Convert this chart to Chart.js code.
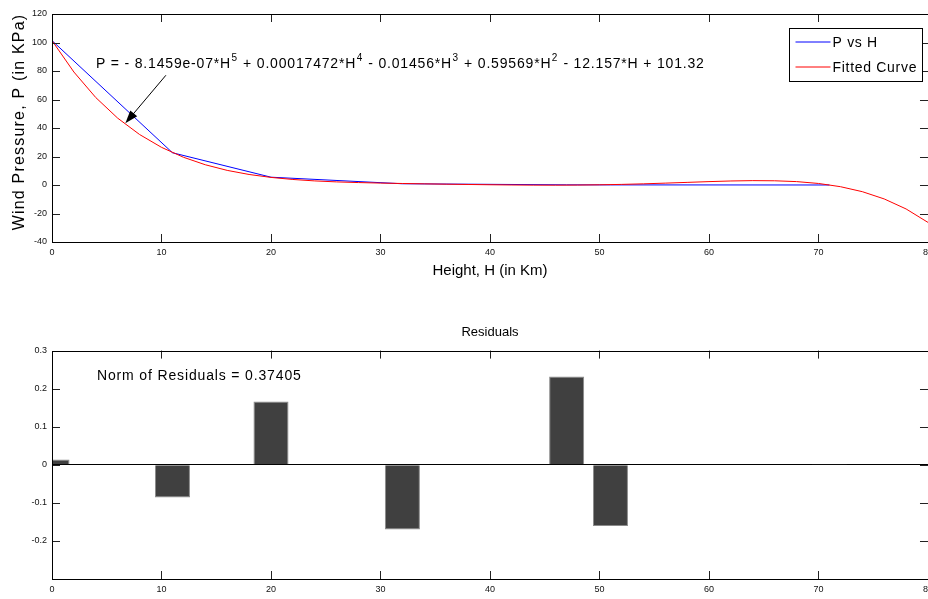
<!DOCTYPE html>
<html>
<head>
<meta charset="utf-8">
<script src="https://cdn.jsdelivr.net/npm/chart.js@4.4.1/dist/chart.umd.min.js"></script>
<style>
body { margin: 0; background: #fff; overflow: hidden; }
canvas { position: absolute; left: 0; }
#topChart { top: 0; }
#resChart { top: 290px; }
</style>
</head>
<body>
<canvas id="topChart" width="938" height="290"></canvas>
<canvas id="resChart" width="938" height="309"></canvas>
<script>
// measured points: height (km) and pressure (kPa)
const heights = [0, 11, 20, 32, 47, 51, 71];
const pressures = [101.325, 22.632, 5.4748, 0.868, 0.1109, 0.0669, 0.00396];

const fitH = [0, 2, 4, 6, 8, 10, 12, 14, 16, 18, 20, 22, 24, 26, 28, 30, 32, 34, 36, 38, 40,
  42, 44, 46, 48, 50, 52, 54, 56, 58, 60, 62, 64, 66, 68, 70, 72, 74, 76, 78, 80];
const fitP = [101.32, 79.28, 61.34, 46.90, 35.42, 26.43, 19.48, 14.20, 10.26, 7.39, 5.32,
  3.88, 2.87, 2.18, 1.70, 1.34, 1.06, 0.81, 0.58, 0.37, 0.17,
  0.02, -0.08, -0.11, -0.04, 0.14, 0.42, 0.82, 1.31, 1.84, 2.37,
  2.82, 3.06, 2.96, 2.38, 1.08, -1.18, -4.68, -9.77, -16.82, -26.26];

// residuals at the measured heights
const residuals = [0.014, -0.086, 0.166, -0.17, 0.232, -0.161, 0.002];

const equation = [
  ['P = - 8.1459e-07*H', '5'],
  [' + 0.00017472*H', '4'],
  [' - 0.01456*H', '3'],
  [' + 0.59569*H', '2'],
  [' - 12.157*H + 101.32', '']
];
const normText = 'Norm of Residuals = 0.37405';

const FONT = '"Liberation Sans", Arial, sans-serif';
Chart.defaults.font.family = FONT;
Chart.defaults.color = '#111';

// box round the axes with MATLAB style inward ticks
const frameTicks = {
  id: 'frameTicks',
  afterDatasetsDraw(chart) {
    const {ctx, chartArea: a, scales: {x, y}} = chart;
    ctx.save();
    ctx.strokeStyle = '#222';
    ctx.lineWidth = 1;
    ctx.beginPath();
    x.ticks.forEach(t => {
      const px = Math.round(x.getPixelForValue(t.value)) + 0.5;
      if (px < a.left + 2 || px > a.right - 2) return;
      ctx.moveTo(px, a.top); ctx.lineTo(px, a.top + 8);
      ctx.moveTo(px, a.bottom); ctx.lineTo(px, a.bottom - 8);
    });
    y.ticks.forEach(t => {
      const py = Math.round(y.getPixelForValue(t.value)) + 0.5;
      if (py < a.top + 2 || py > a.bottom - 2) return;
      ctx.moveTo(a.left, py); ctx.lineTo(a.left + 8, py);
      ctx.moveTo(a.right, py); ctx.lineTo(a.right - 8, py);
    });
    ctx.stroke();
    ctx.strokeStyle = '#000';
    ctx.strokeRect(Math.round(a.left) + 0.5, Math.round(a.top) + 0.5,
      Math.round(a.right - a.left), Math.round(a.bottom - a.top));
    ctx.restore();
  }
};

// equation, arrow, legend and y title on the upper plot
const topDecor = {
  id: 'topDecor',
  afterDatasetsDraw(chart) {
    const {ctx, chartArea: a, scales: {x, y}} = chart;
    ctx.save();
    // equation with superscripts
    let cx = a.left + 44;
    const base = a.top + 54;
    ctx.fillStyle = '#000';
    ctx.textBaseline = 'alphabetic';
    ctx.letterSpacing = '0.82px';
    equation.forEach(([txt, sup]) => {
      ctx.font = '14px ' + FONT;
      ctx.fillText(txt, cx, base);
      cx += ctx.measureText(txt).width;
      if (sup) {
        ctx.font = '10px ' + FONT;
        ctx.fillText(sup, cx + 0.5, base - 7);
        cx += ctx.measureText(sup).width + 1;
      }
    });
    // arrow pointing at the fitted curve
    const x0 = x.getPixelForValue(10.4), y0 = y.getPixelForValue(77);
    const x1 = x.getPixelForValue(6.7), y1 = y.getPixelForValue(43.3);
    const ang = Math.atan2(y1 - y0, x1 - x0);
    ctx.strokeStyle = '#000';
    ctx.lineWidth = 1;
    ctx.beginPath();
    ctx.moveTo(x0, y0);
    ctx.lineTo(x1 - 8 * Math.cos(ang), y1 - 8 * Math.sin(ang));
    ctx.stroke();
    ctx.beginPath();
    ctx.moveTo(x1, y1);
    ctx.lineTo(x1 - 13 * Math.cos(ang) + 4.5 * Math.sin(ang), y1 - 13 * Math.sin(ang) - 4.5 * Math.cos(ang));
    ctx.lineTo(x1 - 13 * Math.cos(ang) - 4.5 * Math.sin(ang), y1 - 13 * Math.sin(ang) + 4.5 * Math.cos(ang));
    ctx.closePath();
    ctx.fill();
    // legend box
    const bx = Math.round(a.right) - 138.5, by = Math.round(a.top) + 14.5;
    ctx.fillStyle = '#fff';
    ctx.fillRect(bx, by, 133, 53);
    ctx.strokeRect(bx, by, 133, 53);
    ctx.font = '14px ' + FONT;
    ctx.letterSpacing = '0.7px';
    ctx.textBaseline = 'middle';
    chart.data.datasets.forEach((ds, i) => {
      const ly = by + 13.5 + i * 25;
      ctx.strokeStyle = ds.borderColor;
      ctx.beginPath();
      ctx.moveTo(bx + 6, ly); ctx.lineTo(bx + 41, ly);
      ctx.stroke();
      ctx.fillStyle = '#000';
      ctx.fillText(ds.label, bx + 43, ly + 1);
    });
    // y axis title, spaced out
    ctx.translate(20, (a.top + a.bottom) / 2 - 6);
    ctx.rotate(-Math.PI / 2);
    ctx.font = '16px ' + FONT;
    ctx.letterSpacing = '1.2px';
    ctx.textAlign = 'center';
    ctx.textBaseline = 'middle';
    ctx.fillStyle = '#000';
    ctx.fillText('Wind Pressure, P (in KPa)', 0, 0);
    ctx.restore();
  }
};

const resDecor = {
  id: 'resDecor',
  afterDatasetsDraw(chart) {
    const {ctx, chartArea: a} = chart;
    ctx.save();
    ctx.font = '14px ' + FONT;
    ctx.letterSpacing = '0.85px';
    ctx.fillStyle = '#000';
    ctx.fillText(normText, a.left + 45, a.top + 29);
    ctx.restore();
  }
};

const tickFont = {size: 9};

new Chart(document.getElementById('topChart'), {
  type: 'scatter',
  data: {
    datasets: [
      {
        label: 'P vs H',
        data: heights.map((h, i) => ({x: h, y: pressures[i]})),
        showLine: true, borderColor: '#0000ff', backgroundColor: '#0000ff',
        borderWidth: 1, pointRadius: 0, order: 1
      },
      {
        label: 'Fitted Curve',
        data: fitH.map((h, i) => ({x: h, y: fitP[i]})),
        showLine: true, borderColor: '#ff0000', backgroundColor: '#ff0000',
        borderWidth: 1, pointRadius: 0, order: 0
      }
    ]
  },
  options: {
    responsive: false,
    animation: false,
    layout: {padding: {top: 14, right: 10, left: 0, bottom: 0}},
    plugins: {legend: {display: false}, tooltip: {enabled: false}},
    scales: {
      x: {
        type: 'linear', min: 0, max: 80,
        ticks: {stepSize: 10, font: tickFont, padding: 5, maxRotation: 0},
        grid: {display: false, drawTicks: false},
        border: {display: false},
        title: {display: true, text: 'Height, H (in Km)', font: {size: 15}, color: '#000', padding: {top: 0, bottom: 10}},
        afterFit(s) { s.height = 48; }
      },
      y: {
        min: -40, max: 120,
        ticks: {stepSize: 20, font: tickFont, padding: 5},
        grid: {display: false, drawTicks: false},
        border: {display: false},
        afterFit(s) { s.width = 52; }
      }
    }
  },
  plugins: [frameTicks, topDecor]
});

new Chart(document.getElementById('resChart'), {
  type: 'bar',
  data: {
    datasets: [{
      label: 'Residuals',
      data: heights.map((h, i) => ({x: h, y: residuals[i]})),
      backgroundColor: '#404040',
      borderColor: '#8a8a8a',
      borderWidth: 1,
      categoryPercentage: 0.8,
      barPercentage: 1.0
    }]
  },
  options: {
    responsive: false,
    animation: false,
    layout: {padding: {top: 0, right: 10, left: 0, bottom: 0}},
    plugins: {
      legend: {display: false},
      tooltip: {enabled: false},
      title: {display: true, text: 'Residuals', fullSize: false, color: '#000',
        font: {size: 13, weight: 'normal'}, padding: {top: 35, bottom: 10}}
    },
    scales: {
      x: {
        type: 'linear', min: 0, max: 80, offset: false,
        ticks: {stepSize: 10, font: tickFont, padding: 5, maxRotation: 0},
        grid: {display: false, drawTicks: false, offset: false},
        border: {display: false},
        afterFit(s) { s.height = 20; }
      },
      y: {
        min: -0.3, max: 0.3,
        ticks: {
          stepSize: 0.1, font: tickFont, padding: 5,
          callback: v => (Math.abs(v + 0.3) < 1e-6 ? '' : +v.toFixed(1))
        },
        grid: {
          drawTicks: false,
          color: c => (Math.abs(c.tick.value) < 1e-6 ? '#000' : 'rgba(0,0,0,0)')
        },
        border: {display: false},
        afterFit(s) { s.width = 52; }
      }
    }
  },
  plugins: [frameTicks, resDecor]
});
</script>
</body>
</html>
